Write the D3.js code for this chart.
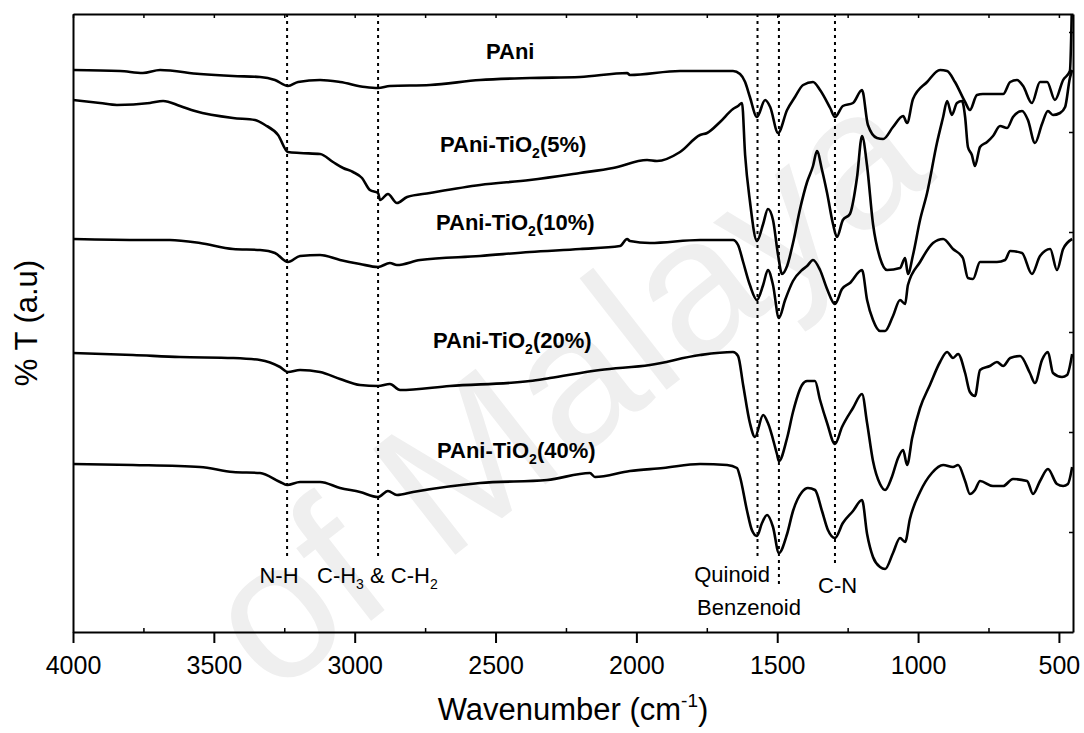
<!DOCTYPE html>
<html>
<head>
<meta charset="utf-8">
<script src="https://cdn.jsdelivr.net/npm/d3@7"></script>
<style>
  body { margin: 0; background: #fff; }
  svg text { font-family: "Liberation Sans", Arial, sans-serif; }
</style>
</head>
<body>
<div id="chart"></div>
<script>
// FTIR spectra, wavenumber (cm-1) and transmittance (arbitrary units, offset stacks)
var pAniWn = [4000,3833,3752,3691,3549,3432,3336,3283,3237,3201,3123,3052,2963,2917,2875,2733,2555,2378,2200,2033,2023,1845,1657,1632,1614,1597,1572,1543,1525,1497,1465,1437,1408,1373,1348,1312,1295,1267,1231,1199,1178,1146,1124,1089,1053,1039,1018,968,922,897,869,833,816,791,770,698,673,649,627,596,567,542,514,485,461,453];
var pAniT = [562,561,559,562,558,556,555,552,546,550,552,550,545,544,546,547,552,554,555,559,557,561,561,558,550,535,515,532,525,499,522,535,547,550,542,524,515,526,529,542,507,494,493,505,516,509,533,550,562,561,550,530,522,537,538,538,550,552,546,529,550,550,532,552,561,640];

var ti5Wn = [4000,3904,3844,3727,3680,3620,3567,3432,3354,3318,3272,3237,3194,3123,3077,3041,3006,2974,2946,2917,2910,2882,2850,2814,2733,2555,2378,2200,2083,1962,1927,1845,1774,1749,1703,1657,1639,1625,1614,1597,1572,1550,1533,1515,1497,1483,1465,1444,1419,1394,1373,1359,1341,1323,1302,1288,1267,1242,1217,1199,1181,1160,1135,1110,1064,1046,1036,1018,993,968,933,911,897,880,862,844,833,823,809,798,780,755,734,709,684,663,631,610,585,560,539,521,496,478,461,453];
var ti5T = [532,529,527,529,531,526,521,514,512,507,497,480,479,478,470,464,460,454,442,439,432,438,429,435,439,447,452,459,464,472,471,480,497,499,510,523,526,529,477,431,391,408,423,412,377,358,366,389,423,450,466,481,462,439,408,395,412,418,454,496,466,408,374,362,364,374,358,377,412,439,489,515,531,517,529,531,515,485,477,466,485,490,496,506,504,515,521,512,489,508,521,517,519,525,554,562];

var ti10Wn = [4000,3752,3656,3549,3432,3336,3283,3237,3194,3123,3052,2981,2917,2875,2850,2768,2555,2378,2200,2058,2033,2023,1952,1774,1657,1639,1621,1597,1572,1550,1533,1515,1494,1472,1444,1412,1394,1373,1348,1323,1295,1270,1242,1199,1181,1160,1135,1117,1089,1064,1046,1036,993,947,911,876,841,823,805,780,720,691,673,631,596,567,531,507,485,453];
var ti10T = [393,392,392,389,383,382,379,370,376,377,372,368,365,369,367,372,376,380,383,386,393,391,389,392,392,387,370,347,332,347,362,347,314,332,351,362,366,372,362,343,328,343,349,362,332,312,301,301,316,332,328,347,370,389,393,383,374,354,353,370,370,372,381,379,358,376,383,362,383,393];

var ti20Wn = [4000,3787,3620,3432,3336,3265,3237,3194,3123,3052,2981,2917,2875,2839,2662,2378,2307,2129,1952,1774,1657,1639,1621,1597,1579,1550,1533,1501,1494,1465,1444,1412,1394,1366,1348,1323,1295,1270,1231,1199,1181,1160,1135,1117,1093,1071,1053,1039,1021,993,958,922,897,876,858,833,816,798,780,745,720,698,673,638,603,585,560,539,521,489,471,453];
var ti20T = [279,277,275,274,272,265,260,262,260,253,247,246,248,242,246,251,254,262,267,277,280,276,247,209,195,217,209,178,171,194,220,247,251,251,232,209,188,205,224,238,209,171,148,142,155,174,182,167,194,224,247,270,280,274,278,259,240,236,262,266,270,266,274,276,259,249,272,280,259,255,257,278];

var ti40Wn = [4000,3787,3549,3432,3336,3265,3240,3194,3123,3052,2981,2917,2882,2850,2793,2555,2317,2165,2147,2023,1905,1774,1678,1643,1632,1607,1590,1572,1554,1536,1515,1494,1465,1444,1412,1391,1366,1341,1320,1295,1267,1231,1199,1181,1160,1135,1117,1089,1064,1046,1029,993,951,911,876,858,833,816,798,780,734,698,663,613,592,567,539,507,485,468,453];
var ti40T = [168,167,165,160,159,150,147,150,150,144,140,135,141,137,140,149,152,159,155,161,164,168,167,164,155,121,102,96,109,117,105,79,98,121,140,144,142,121,102,94,109,121,132,98,75,65,63,79,94,90,113,140,159,167,165,167,151,138,142,151,146,146,153,151,138,151,163,148,146,148,165];

var seriesNames = ["PAni", "PAni-TiO2(5%)", "PAni-TiO2(10%)", "PAni-TiO2(20%)", "PAni-TiO2(40%)"];
var majorTicks = [4000, 3500, 3000, 2500, 2000, 1500, 1000, 500];
var minorTicks = [3750, 3250, 2750, 2250, 1750, 1250, 750];

// band assignments: position (cm-1) and label
var bandWn = [3240, 2917, 1570, 1494, 1295];
var bandNames = ["N-H", "C-H3 & C-H2", "Quinoid", "Benzenoid", "C-N"];

var width = 1084, height = 733;
var mLeft = 73, mRight = 1073, mTop = 14, mBottom = 632;

var svg = d3.select("#chart").append("svg")
    .attr("width", width)
    .attr("height", height);

var x = d3.scaleLinear().domain([4000, 450]).range([mLeft, mRight]);
var y = d3.scaleLinear().domain([0, 618]).range([mBottom, mTop]);

// watermark
svg.append("text")
    .attr("transform", "translate(272,698) rotate(-38)")
    .attr("font-size", "195px")
    .attr("fill", "#efefef")
    .text("of Malaya");

svg.append("clipPath").attr("id", "plotclip")
  .append("rect")
    .attr("x", mLeft).attr("y", mTop)
    .attr("width", mRight - mLeft).attr("height", mBottom - mTop);

// dotted band markers
var bandBottoms = [557, 557, 557, 588, 566];
svg.selectAll(".band")
    .data(bandWn)
    .enter().append("line")
    .attr("class", "band")
    .attr("x1", function(d) { return x(d); })
    .attr("x2", function(d) { return x(d); })
    .attr("y1", mTop)
    .attr("y2", function(d, i) { return bandBottoms[i]; })
    .attr("stroke", "#000")
    .attr("stroke-width", 2)
    .attr("stroke-dasharray", "3,4");

// spectra
var series = [
  { wn: pAniWn, t: pAniT },
  { wn: ti5Wn, t: ti5T },
  { wn: ti10Wn, t: ti10T },
  { wn: ti20Wn, t: ti20T },
  { wn: ti40Wn, t: ti40T }
];

var line = d3.line()
    .x(function(d) { return x(d[0]); })
    .y(function(d) { return y(d[1]); })
    .curve(d3.curveMonotoneX);

svg.append("g")
    .attr("clip-path", "url(#plotclip)")
  .selectAll("path")
    .data(series)
    .enter().append("path")
    .attr("d", function(s) { return line(d3.zip(s.wn, s.t)); })
    .attr("fill", "none")
    .attr("stroke", "#000")
    .attr("stroke-width", 2.6)
    .attr("stroke-linejoin", "round");

// axes
var xAxis = svg.append("g")
    .attr("transform", "translate(0," + mBottom + ")")
    .call(d3.axisBottom(x).tickValues(majorTicks).tickFormat(d3.format("d"))
      .tickSize(11).tickPadding(13).tickSizeOuter(0));
xAxis.select(".domain").attr("stroke-width", 2);
xAxis.selectAll(".tick line").attr("stroke-width", 2);
xAxis.selectAll("text").attr("font-size", "25px").attr("fill", "#000")
    .style("font-family", "'Liberation Sans', Arial, sans-serif");

svg.append("g")
    .attr("transform", "translate(0," + mBottom + ")")
    .call(d3.axisBottom(x).tickValues(minorTicks).tickSize(-4).tickFormat("").tickSizeOuter(0))
    .call(function(g) { g.select(".domain").remove(); })
    .selectAll("line").attr("stroke-width", 1.5);

svg.append("g")
    .attr("transform", "translate(0," + mTop + ")")
    .call(d3.axisTop(x).tickValues(majorTicks.concat(minorTicks)).tickSize(-4).tickFormat("").tickSizeOuter(0))
    .call(function(g) { g.select(".domain").attr("stroke-width", 2); })
    .selectAll(".tick line").attr("stroke-width", 1.5);

svg.append("g")
    .attr("transform", "translate(" + mLeft + ",0)")
    .call(d3.axisLeft(y).tickValues([]).tickSizeOuter(0))
    .select(".domain").attr("stroke-width", 2);

svg.append("g")
    .attr("transform", "translate(" + mRight + ",0)")
    .call(d3.axisRight(y).tickValues([100, 200, 300, 400, 500, 600]).tickSize(-4).tickFormat("").tickSizeOuter(0))
    .call(function(g) { g.select(".domain").attr("stroke-width", 2); })
    .selectAll(".tick line").attr("stroke-width", 1.5);

// axis titles
var xt = svg.append("text")
    .attr("x", (mLeft + mRight) / 2)
    .attr("y", 720)
    .attr("text-anchor", "middle")
    .attr("font-size", "31px");
xt.append("tspan").text("Wavenumber (cm");
xt.append("tspan").attr("font-size", "19px").attr("dy", "-13").text("-1");
xt.append("tspan").attr("dy", "13").text(")");

svg.append("text")
    .attr("transform", "translate(37," + (mTop + mBottom) / 2 + ") rotate(-90)")
    .attr("text-anchor", "middle")
    .attr("font-size", "31px")
    .text("% T (a.u)");

// series labels
var labelPos = [[486, 59], [440, 152], [436, 230], [433, 348], [437, 458]];
seriesNames.forEach(function(name, i) {
  var t = svg.append("text")
      .attr("x", labelPos[i][0])
      .attr("y", labelPos[i][1])
      .attr("font-size", "22px")
      .attr("font-weight", "bold");
  var k = name.indexOf("TiO2");
  if (k >= 0) {
    k += 3;
    t.append("tspan").text(name.slice(0, k));
    t.append("tspan").attr("font-size", "14px").attr("dy", "6").text("2");
    t.append("tspan").attr("dy", "-6").text(name.slice(k + 1));
  } else {
    t.text(name);
  }
});

// band labels
var bandLabelPos = [[279, 583, "middle"], [317, 583, "start"], [770, 582, "end"], [697, 615, "start"], [818, 593, "start"]];
bandNames.forEach(function(name, i) {
  var t = svg.append("text")
      .attr("x", bandLabelPos[i][0])
      .attr("y", bandLabelPos[i][1])
      .attr("text-anchor", bandLabelPos[i][2])
      .attr("font-size", "22px");
  if (name.indexOf("&") >= 0) {
    t.append("tspan").text("C-H");
    t.append("tspan").attr("font-size", "14px").attr("dy", "6").text("3");
    t.append("tspan").attr("dy", "-6").text(" & C-H");
    t.append("tspan").attr("font-size", "14px").attr("dy", "6").text("2");
  } else {
    t.text(name);
  }
});
</script>
</body>
</html>
